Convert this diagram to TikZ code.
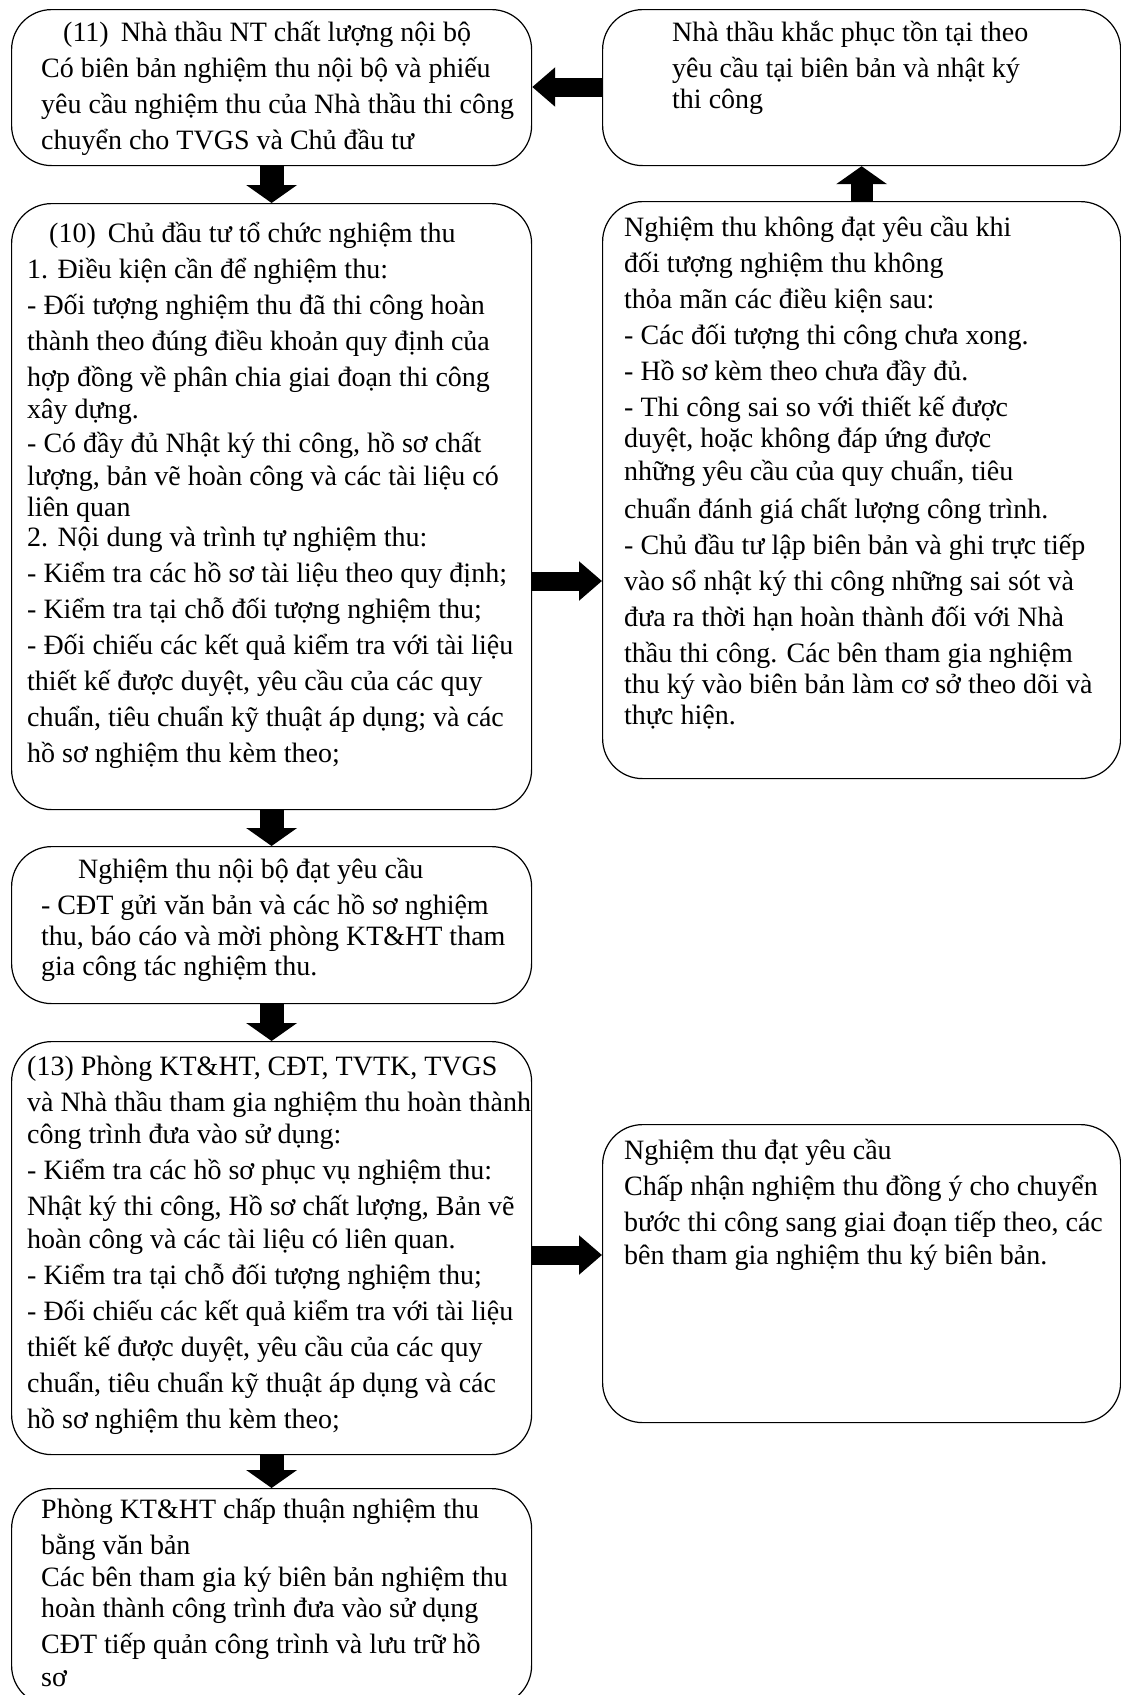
\documentclass[tikz,border=0pt]{standalone}
\usepackage{fontspec}
\setmainfont{Liberation Serif}
\usetikzlibrary{arrows.meta,calc}
\tikzset{
  box/.style={draw, line width=1.2pt, rounded corners=40pt, anchor=north west, inner sep=0pt},
  txt/.style={inner sep=0pt, anchor=north west, align=left,
    font={\fontsize{28}{36}\selectfont\lineskiplimit=-60pt}},
  bigdown/.style={line width=24pt, -{Triangle[width=50pt,length=18pt]}},
  bigside/.style={line width=19pt, -{Triangle[width=38pt,length=23pt]}},
}
\newcommand{\fl}{\rule{0pt}{30pt}}
\begin{document}
\begin{tikzpicture}[x=1pt,y=-1pt]
\useasboundingbox (0,0) rectangle (1121,1695);
% boxes
\node[box, minimum width=520pt, minimum height=156pt] (b11) at (11,9) {};
\node[box, minimum width=518pt, minimum height=156pt] (btr) at (602,9) {};
\node[box, minimum width=520pt, minimum height=606pt] (b10) at (11,203) {};
\node[box, minimum width=518pt, minimum height=577pt] (bkd) at (602,201) {};
\node[box, minimum width=520pt, minimum height=157pt] (bnd) at (11,846) {};
\node[box, minimum width=520pt, minimum height=413pt] (b13) at (11,1041) {};
\node[box, minimum width=518pt, minimum height=298pt] (bd) at (602,1124) {};
\node[box, minimum width=520pt, minimum height=217pt] (bf) at (11,1488) {};

% texts
\node[txt] (t11) at (41,11.5) {\fl\hspace*{22pt}(11)\hspace{12pt}Nhà thầu NT chất lượng nội bộ\\
Có biên bản nghiệm thu nội bộ và phiếu\\
yêu cầu nghiệm thu của Nhà thầu thi công\\
chuyển cho TVGS và Chủ đầu tư};

\node[txt] (ttr) at (672,11.5) {\fl Nhà thầu khắc phục tồn tại theo\\
yêu cầu tại biên bản và nhật ký\\[-5pt]
thi công};

\node[txt] (t10) at (27,212.5) {\fl\hspace*{22pt}(10)\hspace{12pt}Chủ đầu tư tổ chức nghiệm thu\\
1. Điều kiện cần để nghiệm thu:\\
- Đối tượng nghiệm thu đã thi công hoàn\\
thành theo đúng điều khoản quy định của\\
hợp đồng về phân chia giai đoạn thi công\\[-4pt]
xây dựng.\\[-2pt]
- Có đầy đủ Nhật ký thi công, hồ sơ chất\\[-3pt]
lượng, bản vẽ hoàn công và các tài liệu có\\[-5pt]
liên quan\\[-6pt]
2. Nội dung và trình tự nghiệm thu:\\
- Kiểm tra các hồ sơ tài liệu theo quy định;\\
- Kiểm tra tại chỗ đối tượng nghiệm thu;\\
- Đối chiếu các kết quả kiểm tra với tài liệu\\
thiết kế được duyệt, yêu cầu của các quy\\
chuẩn, tiêu chuẩn kỹ thuật áp dụng; và các\\
hồ sơ nghiệm thu kèm theo;};

\node[txt] (tkd) at (624,206) {\fl Nghiệm thu không đạt yêu cầu khi\\
đối tượng nghiệm thu không\\
thỏa mãn các điều kiện sau:\\
- Các đối tượng thi công chưa xong.\\
- Hồ sơ kèm theo chưa đầy đủ.\\
- Thi công sai so với thiết kế được\\[-5pt]
duyệt, hoặc không đáp ứng được\\[-3pt]
những yêu cầu của quy chuẩn, tiêu\\[2pt]
chuẩn đánh giá chất lượng công trình.\\
- Chủ đầu tư lập biên bản và ghi trực tiếp\\
vào sổ nhật ký thi công những sai sót và\\
đưa ra thời hạn hoàn thành đối với Nhà\\
thầu thi công. Các bên tham gia nghiệm\\[-5pt]
thu ký vào biên bản làm cơ sở theo dõi và\\[-5pt]
thực hiện.};

\node[txt] (tnd) at (41,848) {\fl\hspace*{37pt}Nghiệm thu nội bộ đạt yêu cầu\\
- CĐT gửi văn bản và các hồ sơ nghiệm\\[-5pt]
thu, báo cáo và mời phòng KT\&HT tham\\[-6pt]
gia công tác nghiệm thu.};

\node[txt] (t13) at (27,1045) {\fl (13) Phòng KT\&HT, CĐT, TVTK, TVGS\\
và Nhà thầu tham gia nghiệm thu hoàn thành\\[-4pt]
công trình đưa vào sử dụng:\\
- Kiểm tra các hồ sơ phục vụ nghiệm thu:\\
Nhật ký thi công, Hồ sơ chất lượng, Bản vẽ\\[-3pt]
hoàn công và các tài liệu có liên quan.\\
- Kiểm tra tại chỗ đối tượng nghiệm thu;\\
- Đối chiếu các kết quả kiểm tra với tài liệu\\
thiết kế được duyệt, yêu cầu của các quy\\
chuẩn, tiêu chuẩn kỹ thuật áp dụng và các\\
hồ sơ nghiệm thu kèm theo;};

\node[txt] (td) at (624,1129) {\fl Nghiệm thu đạt yêu cầu\\
Chấp nhận nghiệm thu đồng ý cho chuyển\\
bước thi công sang giai đoạn tiếp theo, các\\[-3pt]
bên tham gia nghiệm thu ký biên bản.};

\node[txt] (tf) at (41,1488) {\fl Phòng KT\&HT chấp thuận nghiệm thu\\
bằng văn bản\\[-4pt]
Các bên tham gia ký biên bản nghiệm thu\\[-5pt]
hoàn thành công trình đưa vào sử dụng\\
CĐT tiếp quản công trình và lưu trữ hồ\\[-3pt]
sơ};

% connectors
\coordinate (r1) at (0,581);
\coordinate (r2) at (0,1255);
\coordinate (r0) at (0,87);
\draw[bigdown] (b11.south) -- (b10.north);
\draw[bigdown] (b10.south) -- (bnd.north);
\draw[bigdown] (bnd.south) -- (b13.north);
\draw[bigdown] (b13.south) -- (bf.north);
\draw[bigdown, line width=22pt] (bkd.north) -- (btr.south);
\draw[bigside] (btr.west |- r0) -- (b11.east |- r0);
\draw[bigside] (b10.east |- r1) -- (bkd.west |- r1);
\draw[bigside] (b13.east |- r2) -- (bd.west |- r2);
\end{tikzpicture}
\end{document}
